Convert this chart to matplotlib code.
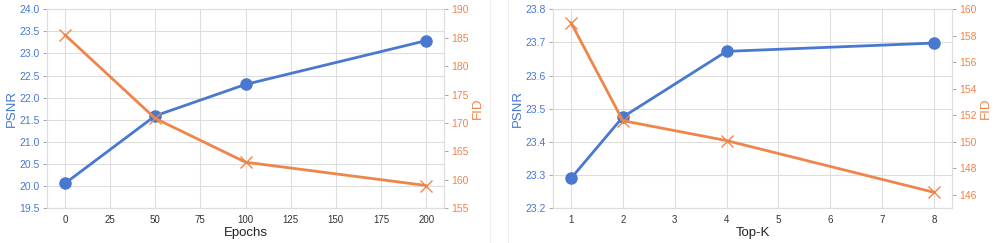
import matplotlib
matplotlib.use("Agg")
import matplotlib.pyplot as plt
import seaborn as sns
from matplotlib.lines import Line2D

sns.set_style("whitegrid")
plt.rcParams["font.family"] = ["Liberation Sans", "DejaVu Sans"]

blue = "#4878d0"
orange = "#ee854a"

# Epochs ablation
epochs = [0, 50, 100, 200]
epochs_psnr = [20.06, 21.59, 22.30, 23.29]
epochs_fid = [185.5, 170.8, 163.1, 159.0]

# Top-K ablation
topk = [1, 2, 4, 8]
topk_psnr = [23.29, 23.475, 23.673, 23.698]
topk_fid = [159.0, 151.6, 150.1, 146.2]

fig = plt.figure(figsize=(9.96, 2.43), dpi=100)
ax1 = fig.add_axes([0.047, 0.143, 0.399, 0.819])
ax2 = fig.add_axes([0.555, 0.143, 0.401, 0.819])


def panel(ax, x, psnr, fid, xlabel, ylim_l, yticks_l, ylim_r, yticks_r, xticks, fmt_r):
    ax.plot(x, psnr, color=blue, marker="o", markersize=8, linewidth=2)
    ax.set_ylim(*ylim_l)
    ax.set_yticks(yticks_l)
    ax.set_yticklabels([f"{v:.1f}" for v in yticks_l])
    ax.set_xticks(xticks)
    ax.set_xlabel(xlabel, fontsize=9.5, color="#222222", labelpad=1)
    ax.set_ylabel("PSNR", fontsize=9.5, color=blue, labelpad=1)
    ax.tick_params(axis="y", colors=blue, labelsize=7.5, length=3, width=0.6, pad=2)
    ax.tick_params(axis="y", color="#999999")
    ax.tick_params(axis="x", labelsize=7, labelcolor="#333333", length=0, pad=5)
    ax.grid(color="#dddddd", linewidth=0.8)
    for s in ax.spines.values():
        s.set_color("#dddddd")

    ax_r = ax.twinx()
    ax_r.plot(x, fid, color=orange, marker="x", markersize=9, markeredgewidth=1,
              linewidth=2)
    ax_r.set_ylim(*ylim_r)
    ax_r.set_yticks(yticks_r)
    ax_r.set_yticklabels([fmt_r(v) for v in yticks_r])
    ax_r.set_ylabel("FID", fontsize=9.5, color=orange, labelpad=2)
    ax_r.tick_params(axis="y", colors=orange, labelsize=7.5, length=3, width=0.6, pad=2)
    ax_r.tick_params(axis="y", color="#999999")
    ax_r.grid(False)
    for s in ax_r.spines.values():
        s.set_color("#dddddd")
    return ax_r


panel(ax1, epochs, epochs_psnr, epochs_fid, "Epochs",
      (19.5, 24.0), [19.5 + 0.5 * i for i in range(10)],
      (155, 190), list(range(155, 191, 5)),
      [0, 25, 50, 75, 100, 125, 150, 175, 200], lambda v: f"{v:d}")

panel(ax2, topk, topk_psnr, topk_fid, "Top-K",
      (23.2, 23.8), [23.2 + 0.1 * i for i in range(7)],
      (145, 160), list(range(146, 161, 2)),
      list(range(1, 9)), lambda v: f"{v:d}")

# faint borders between the two panels
for xf in (489.7 / 996, 507.7 / 996):
    fig.add_artist(Line2D([xf, xf], [0, 1], transform=fig.transFigure,
                          color="#eeeeee", linewidth=0.8))

fig.savefig("out.png", dpi=100)
